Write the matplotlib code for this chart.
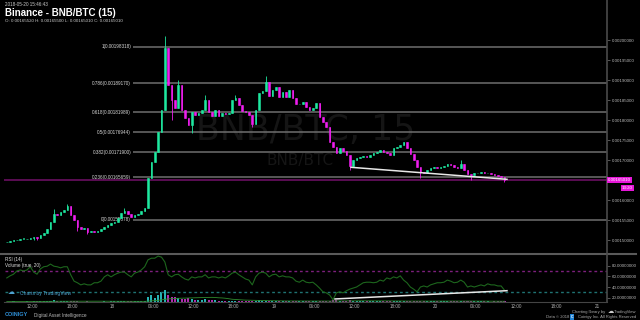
import matplotlib.pyplot as plt
import numpy as np
import pandas as pd
from matplotlib.lines import Line2D

plt.rcParams['font.family'] = ['Liberation Sans', 'DejaVu Sans']

# 30 min candles of BNB/BTC, prices in satoshi, time in hours since 2018-05-17 00:00
start_hour = 8.25
open_first = 149500
closes = [
    149625, 149750, 150000, 150125, 150250, 150375, 150375, 150625, 150750, 150500,
    151250, 151750, 152750, 154500, 156500, 156250, 157000, 157500, 158500, 156250,
    155000, 153250, 152750, 153000, 152000, 152250, 152000, 152250, 152750, 153250,
    153750, 154250, 154500, 155500, 156750, 157250, 156500, 155750, 156250, 156500,
    157250, 158000, 165500, 169500, 172000, 177000, 182500, 198000, 188750, 185000,
    183000, 188750, 182500, 180500, 178750, 182000, 181250, 181750, 182500, 185000,
    182000, 181000, 182500, 181000, 181750, 181500, 181750, 185000, 185500, 183750,
    182250, 182000, 181250, 179000, 182500, 186750, 187250, 189500, 186000, 187500,
    188250, 185750, 187000, 185750, 187500, 185500, 184000, 184000, 184500, 183250,
    182500, 183000, 184250, 180750, 179500, 178250, 174500, 173250, 171750, 173000,
    172250, 171250, 168500, 170000, 170500, 170750, 171000, 170750, 171250, 171750,
    172000, 172500, 172000, 171750, 171250, 173000, 173250, 173750, 174500, 173000,
    171500, 170000, 168250, 167000, 166750, 167500, 168000, 168250, 168000, 168250,
    168500, 169000, 168750, 168250, 168000, 169000, 167500, 166500, 166250, 166750,
    166750, 167000, 166750, 166750, 166500, 166250, 166000, 165750, 165010,
]
# wicks that stick out of the body
wick_highs = {14: 157750, 18: 159000, 35: 158000, 47: 201000, 51: 190000,
              59: 186250, 68: 186250, 77: 191000, 135: 170000}
wick_lows = {8: 150000, 9: 150000, 21: 152250, 24: 151500, 49: 180000, 55: 176750,
             73: 178250, 102: 167500, 123: 165500, 138: 165000, 148: 164500}

rsi = [
    57, 61, 64, 70, 72, 70, 72, 78, 68, 64,
    74, 78, 79, 83, 79, 78, 76, 78, 78, 63,
    51, 48, 44, 46, 44, 44, 48, 48, 51, 59,
    63, 59, 63, 66, 68, 68, 63, 59, 66, 68,
    72, 78, 91, 94, 94, 98, 96, 87, 63, 59,
    63, 64, 59, 55, 53, 59, 57, 59, 59, 63,
    57, 59, 59, 57, 59, 57, 61, 66, 68, 63,
    59, 55, 53, 44, 59, 66, 68, 66, 59, 63,
    64, 59, 61, 59, 59, 57, 51, 49, 53, 49,
    48, 49, 44, 38, 31, 29, 25, 16, 29, 31,
    29, 33, 36, 38, 40, 44, 48, 49, 49, 48,
    49, 53, 51, 57, 55, 59, 57, 61, 53, 48,
    40, 36, 31, 40, 42, 40, 44, 46, 48, 48,
    49, 53, 51, 48, 49, 53, 49, 40, 42, 40,
    42, 44, 42, 46, 44, 44, 42, 42, 34,
]
volume = [
    4, 3, 5, 4, 3, 4, 5, 4, 8, 6, 5, 6, 7,
    12, 15, 9, 8, 7, 11, 9, 8,
    5, 4, 4, 5, 3, 4, 3, 4, 5, 4, 5, 6, 6, 9, 7, 5, 6, 5, 6, 7, 8,
    44, 58, 31, 58, 86, 100, 58, 44, 42, 33, 25, 25, 33, 25, 17, 17, 20, 22, 18, 20, 16,
    10, 8, 9, 7, 12, 10, 8, 7, 6, 9, 8, 12, 14, 10, 8, 7, 9, 8, 6, 7,
    6, 5, 6, 7, 5, 6, 8, 7, 9, 10, 12, 8, 9,
    12, 14, 16, 12, 10, 9, 15, 11, 8, 7, 6, 6, 5, 6, 7, 6, 5, 6, 7, 8,
    8, 9, 7, 6, 8, 10, 11, 12, 10, 8, 7, 6, 6, 5, 6, 5, 6, 7, 9, 6,
    8, 10, 7, 6, 5, 5, 6, 5, 4, 5, 6, 5, 8,
]

fib_levels = ['1', '0.786', '0.618', '0.5', '0.382', '0.236', '0']
fib_prices = [0.00198318, 0.00189170, 0.00181989, 0.00176944, 0.00171900, 0.00165659, 0.00155078]

# drawn trend lines (hour, value)
price_trend_t = [59.43, 82.62]
price_trend_v = [0.00168175, 0.00165175]
rsi_trend_t = [57.05, 82.62]
rsi_trend_v = [17.6, 33.1]

price_ticks = [0.0015, 0.00155, 0.0016, 0.0017, 0.00175, 0.0018, 0.00185, 0.0019, 0.00195, 0.002]
rsi_ticks = [20, 40, 60, 80]
time_ticks = [12, 18, 24, 30, 36, 42, 48, 54, 60, 66, 72, 78, 84, 90, 96]
time_labels = ['12:00', '18:00', '18', '06:00', '12:00', '18:00', '19', '06:00',
               '12:00', '18:00', '20', '06:00', '12:00', '18:00', '21']

W, H = 640, 320
UP, DOWN = '#1ee8a0', '#f01ef0'
X0, X1 = 7.242, 97.49


def rect(x0, y0, x1, y1):
    return [x0 / W, 1 - y1 / H, (x1 - x0) / W, (y1 - y0) / H]


def ftxt(x, y, s, **kw):
    kw.setdefault('va', 'center')
    fig.text(x / W, 1 - y / H, s, **kw)


fig = plt.figure(figsize=(6.4, 3.2), dpi=100, facecolor='black')
ax = fig.add_axes(rect(0, 0, 607, 254))
rax = fig.add_axes(rect(0, 254, 607, 302))
vax = fig.add_axes(rect(0, 254, 607, 302), frameon=False)

hours = start_hour + 0.5 * np.arange(len(closes))
c = np.array(closes) / 1e8
o = np.array([open_first] + closes[:-1]) / 1e8
hi = np.maximum(o, c)
lo = np.minimum(o, c)
for k, v in wick_highs.items():
    hi[k] = v / 1e8
for k, v in wick_lows.items():
    lo[k] = v / 1e8
cols = [UP if cc >= oo else DOWN for oo, cc in zip(o, c)]

# ---- price panel
ax.set_facecolor('black')
ax.text(0.504, 0.488, 'BNB/BTC, 15', transform=ax.transAxes, fontsize=25,
        family='DejaVu Sans', color='#151515', ha='center', va='center', zorder=0)
ax.text(0.494, 0.37, 'BNB/BTC', transform=ax.transAxes, fontsize=11,
        family='DejaVu Sans', color='#151515', ha='center', va='center', zorder=0)

for lvl, p in zip(fib_levels, fib_prices):
    ax.hlines(p, 27.02, X1, color='#6e6e6e', lw=1.1, zorder=1)
    ax.text(26.75, p, f'{lvl}({p:.8f})', fontsize=3.3, color='#d8d8d8',
            ha='right', va='center', zorder=1)

ax.hlines(c[-1], 7.84, X1, color='#6a0f62', lw=1.2, zorder=1)

ax.vlines(hours, lo, hi, colors=cols, lw=0.6, zorder=3)
ax.bar(hours, np.maximum(o, c) - np.minimum(o, c), bottom=np.minimum(o, c),
       width=0.24, color=cols, edgecolor=cols, lw=0.4, zorder=3)
ax.plot(price_trend_t, price_trend_v, color='#e8e8e8', lw=1.1, zorder=4)

ax.set_xlim(X0, X1)
ax.set_ylim(0.001465, 0.0021)
ax.set_xticks([])
ax.yaxis.tick_right()
ax.set_yticks(price_ticks)
ax.set_yticklabels([f'{p:.8f}' for p in price_ticks])
ax.tick_params(axis='y', length=2.5, width=0.5, color='#777777', labelsize=3.2,
               labelcolor='#b8b8b8', pad=1)
for s in ['top', 'left', 'bottom']:
    ax.spines[s].set_visible(False)
ax.spines['right'].set_color('#4a4a4a')
ax.spines['right'].set_linewidth(1.2)

ax.text(1.0015, c[-1], f'{c[-1]:.8f}', transform=ax.get_yaxis_transform(),
        fontsize=3.2, color='white', ha='left', va='center', zorder=10, clip_on=False,
        bbox=dict(boxstyle='square,pad=0.25', fc='#e616d8', ec='none'))
ax.annotate('13:20', xy=(1.0425, c[-1]), xycoords=ax.get_yaxis_transform(),
            xytext=(0, -6), textcoords='offset points', fontsize=3.2, color='white',
            ha='right', va='center', zorder=10, annotation_clip=False,
            bbox=dict(boxstyle='square,pad=0.25', fc='#e616d8', ec='none'))

# ---- RSI / volume panel
rax.set_facecolor('black')
rax.set_zorder(2)
vax.set_zorder(1)
rax.patch.set_alpha(0)

vcols = ['#27b3b3' if cc >= oo else '#b12bb1' for oo, cc in zip(o, c)]
vax.bar(hours, volume, width=0.3, color=vcols, lw=0)
vol_ma = pd.Series(volume).rolling(20, min_periods=1).mean()
vax.plot(hours, vol_ma, color='#2e8b2e', lw=0.6)
vax.set_xlim(X0, X1)
vax.set_ylim(0, 400)
vax.axis('off')

rax.hlines(70, 7.99, X1, color='#7d1f7d', lw=1, linestyles=(0, (2, 2)))
rax.hlines(30, 7.99, X1, color='#1f7272', lw=1, linestyles=(0, (2, 2)))
rax.plot(hours, rsi, color='#1d661d', lw=0.8)
rax.plot(rsi_trend_t, rsi_trend_v, color='#e8e8e8', lw=1.1)
rax.set_xlim(X0, X1)
rax.set_ylim(11.9, 101.9)
rax.yaxis.tick_right()
rax.set_yticks(rsi_ticks)
rax.set_yticklabels([f'{v:.8f}' for v in rsi_ticks])
rax.tick_params(axis='y', length=2.5, width=0.5, color='#777777', labelsize=3.2,
                labelcolor='#b8b8b8', pad=1)
rax.set_xticks(time_ticks)
rax.set_xticklabels(time_labels)
rax.tick_params(axis='x', length=0, labelsize=3.3, labelcolor='#b0b0b0', pad=1.8)
rax.spines['top'].set_visible(False)
rax.spines['left'].set_visible(False)
rax.spines['right'].set_color('#4a4a4a')
rax.spines['right'].set_linewidth(1.2)
rax.spines['bottom'].set_color('#444444')
rax.spines['bottom'].set_bounds(7.9, X1)

fig.add_artist(Line2D([0, 636 / W], [1 - 254 / H] * 2, color='#5a5a5a', lw=1.5))

# ---- texts
ftxt(5, 4.5, '2018-05-20 15:46:43', fontsize=3.3, color='#cccccc')
ftxt(5, 13, 'Binance - BNB/BTC (15)', fontsize=7, weight='bold', color='white')
ftxt(5, 21, 'O: 0.00165520 H: 0.00165500 L: 0.00165010 C: 0.00165010',
     fontsize=3.2, color='#cccccc')
ftxt(5, 259, 'RSI (14)', fontsize=3.3, color='#dddddd')
ftxt(5, 265, 'Volume (true, 20)', fontsize=3.3, color='#dddddd')
ftxt(8, 292.5, '☁', fontsize=5, color='#4fa3d1', family='DejaVu Sans')
ftxt(20, 293, 'Charts by TradingView', fontsize=3.6, color='#4fa3d1')
ftxt(5, 315, 'COINIGY', fontsize=4, weight='bold', color='#2f8fd6')
ftxt(34, 315.5, 'Digital Asset Intelligence', fontsize=3.4, color='#bbbbbb')
ftxt(605, 312, 'Charting library by', fontsize=3, color='#aaaaaa', ha='right')
ftxt(608, 311.5, '☁', fontsize=4.5, color='#cccccc', family='DejaVu Sans')
ftxt(636, 312, 'TradingView', fontsize=3, color='#aaaaaa', ha='right')
ftxt(569, 317, 'Data © 2018', fontsize=3, color='#aaaaaa', ha='right')
ftxt(570.5, 317, 'C', fontsize=2.6, color='white', weight='bold',
     bbox=dict(boxstyle='square,pad=0.2', fc='#1e7fd0', ec='none'))
ftxt(636, 317, 'Coinigy Inc. All Rights Reserved', fontsize=3, color='#aaaaaa', ha='right')

fig.savefig('out.png', dpi=100, facecolor='black')
